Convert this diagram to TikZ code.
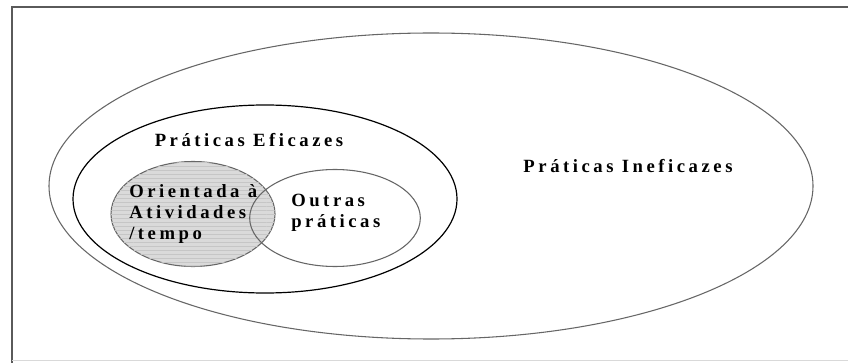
\documentclass[tikz,border=0pt]{standalone}
\usepackage{fontspec}
\setmainfont{Liberation Serif}
\newfontfamily\spacedfont[LetterSpace=19]{Liberation Serif}
\usepackage{tikz}
\usetikzlibrary{shapes.geometric, patterns, positioning}

\definecolor{framegray}{HTML}{5A5A5A}
\definecolor{linegray}{HTML}{666666}
\definecolor{shadegray}{HTML}{DADADA}

\begin{document}
\begin{tikzpicture}[
  x=0.75pt, y=-0.75pt,
  set/.style={ellipse, draw, inner sep=0pt, outer sep=0pt},
  label/.style={font=\spacedfont\bfseries\fontsize{14}{16}\selectfont, inner sep=0pt},
  listlabel/.style={label, align=left, anchor=west}
]

\useasboundingbox (0,0) rectangle (848,363);

% Frame
\draw[framegray, line width=0.9pt] (848,7) -- (12,7) -- (12,363);
\draw[gray!30, line width=0.6pt] (12,360) -- (848,360);

% Sets
\node[set, linegray, line width=0.8pt, minimum width=573pt, minimum height=229.5pt] (ineficazes) at (431,186) {};
\node[set, black, line width=0.9pt, minimum width=288pt, minimum height=141pt] (eficazes) at (265,199) {};
\node[set, linegray, line width=0.8pt, fill=shadegray,
      postaction={pattern=horizontal lines, pattern color=gray!45},
      minimum width=123pt, minimum height=78.75pt] (tempo) at (193,214) {};
\node[set, linegray, line width=0.8pt, minimum width=128pt, minimum height=72.75pt] (outras) at (335,218) {};

% Labels
\node[label] (ineficazestext) at (628,166) {Práticas Ineficazes};
\node[label] (eficazestext) at (249,140) {Práticas Eficazes};
\node[listlabel] (tempotext) at (129,214) {Orientada à\\Atividades\\/tempo};
\node[listlabel] (outrastext) at (291,213) {Outras\\práticas};

\end{tikzpicture}
\end{document}
